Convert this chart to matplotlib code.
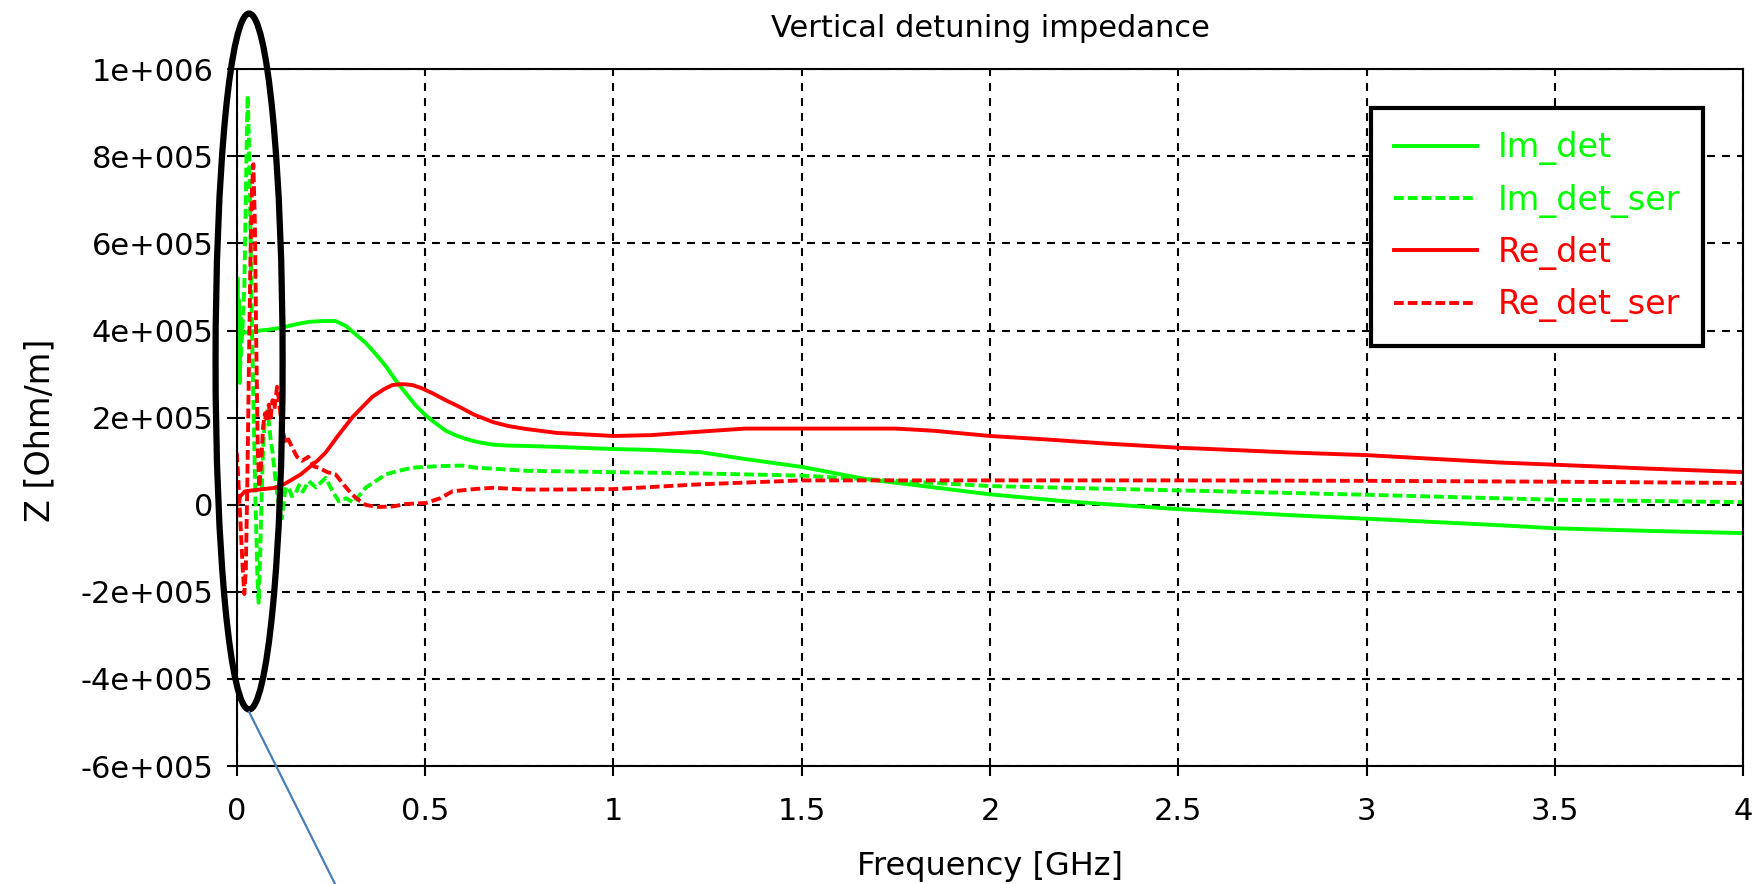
import matplotlib
matplotlib.use("Agg")
import matplotlib.pyplot as plt
from matplotlib.patches import Ellipse

# frequency [GHz] and impedance [kOhm/m]
f_im_det = [0, 0.002, 0.004, 0.006, 0.008, 0.010, 0.013, 0.02, 0.04, 0.06, 0.084,
            0.12, 0.16, 0.19, 0.23, 0.262, 0.289, 0.315, 0.342, 0.37, 0.396, 0.42,
            0.449, 0.475, 0.502, 0.53, 0.555, 0.58, 0.609, 0.64, 0.68, 0.72, 0.77,
            0.85, 1.0, 1.1, 1.23, 1.35, 1.5, 1.67, 1.85, 2.0, 2.2, 2.5, 2.8, 3.0,
            3.354, 3.5, 3.75, 4.0]
im_det = [400, 520, 300, 470, 280, 430, 400, 395, 398, 400, 402,
          407, 415, 420, 422, 422, 411, 392, 372, 345, 318, 288,
          256, 228, 205, 186, 170, 160, 151, 144, 138, 136, 135,
          133, 128, 126, 121, 105, 87, 59, 40, 24, 8, -10, -24, -32,
          -47, -54, -60, -65]

f_im_ser = [0, 0.004, 0.008, 0.012, 0.016, 0.02, 0.024, 0.027, 0.029, 0.032, 0.036,
            0.04, 0.045, 0.05, 0.055, 0.058, 0.062, 0.066, 0.07, 0.075, 0.08, 0.085,
            0.09, 0.095, 0.1, 0.105, 0.11, 0.115, 0.12, 0.125, 0.13, 0.138, 0.146,
            0.155, 0.165, 0.175, 0.191, 0.21, 0.236, 0.255, 0.271, 0.29, 0.31, 0.342,
            0.37, 0.396, 0.43, 0.466, 0.5, 0.546, 0.6, 0.635, 0.7, 0.769, 0.85, 1.0,
            1.23, 1.5, 1.75, 2.0, 2.25, 2.5, 2.56, 3.0, 3.5, 4.0]
im_det_ser = [450, 380, 300, 360, 420, 500, 700, 870, 940, 850, 650,
              420, 200, 0, -170, -225, -120, 20, 130, 200, 215, 190,
              150, 120, 80, 40, 10, -20, -31, 10, 40, 39, 20,
              23, 45, 30, 54, 40, 62, 30, 8, 15, 5, 39,
              55, 70, 78, 85, 87, 89, 90, 85, 82, 78, 77, 75,
              72, 67, 55, 43, 38, 33, 32, 23, 11.5, 6]

f_re_det = [0, 0.01, 0.022, 0.05, 0.08, 0.102, 0.125, 0.147, 0.17, 0.191, 0.215,
            0.236, 0.27, 0.307, 0.335, 0.36, 0.39, 0.413, 0.44, 0.466, 0.49, 0.52,
            0.555, 0.591, 0.63, 0.68, 0.72, 0.769, 0.85, 1.0, 1.1, 1.23, 1.35, 1.5,
            1.75, 1.85, 2.0, 2.15, 2.3, 2.5, 2.56, 2.8, 3.0, 3.354, 3.5, 3.75, 4.0]
re_det = [0, 20, 31, 34, 37, 39, 47, 58, 70, 85, 102,
          120, 160, 201, 226, 248, 265, 275, 277, 275, 268, 256,
          240, 225, 207, 190, 181, 174, 165, 158, 160, 168, 175, 175,
          175, 170, 158, 150, 141, 131, 129, 120, 114, 97, 92, 83, 75]

f_re_ser = [0, 0.004, 0.008, 0.012, 0.016, 0.02, 0.024, 0.028, 0.032, 0.036, 0.04,
            0.044, 0.048, 0.052, 0.056, 0.06, 0.065, 0.07, 0.075, 0.08, 0.085, 0.09,
            0.095, 0.1, 0.107, 0.112, 0.118, 0.124, 0.13, 0.137, 0.147, 0.16, 0.173,
            0.19, 0.205, 0.218, 0.24, 0.262, 0.285, 0.307, 0.325, 0.342, 0.37, 0.413,
            0.45, 0.502, 0.54, 0.573, 0.63, 0.68, 0.769, 0.85, 1.0, 1.23, 1.5, 2.0,
            2.5, 3.0, 3.5, 4.0]
re_det_ser = [120, 60, -10, -80, -150, -205, -150, 50, 300, 550, 720,
              782, 650, 350, 120, 40, 100, 180, 210, 190, 230, 200,
              240, 220, 271, 240, 190, 163, 140, 150, 132, 110, 101,
              110, 88, 85, 75, 70, 45, 23, 10, 0, -5, -4,
              2, 4, 15, 31, 36, 39, 35, 35, 36, 47, 56, 56,
              56, 55, 53, 50]

y_ticks = [-6e5, -4e5, -2e5, 0, 2e5, 4e5, 6e5, 8e5, 1e6]
y_labels = ["-6e+005", "-4e+005", "-2e+005", "0", "2e+005", "4e+005",
            "6e+005", "8e+005", "1e+006"]
x_ticks = [0, 0.5, 1, 1.5, 2, 2.5, 3, 3.5, 4]
x_labels = ["0", "0.5", "1", "1.5", "2", "2.5", "3", "3.5", "4"]

green = "#00ff00"
red = "#ff0000"
fs = 22

fig = plt.figure(figsize=(17.63, 8.84), dpi=100)
ax = fig.add_axes([0.1343, 0.1334, 0.8546, 0.7882])

def k(v):
    return [a * 1000 for a in v]

lw = 2.8
dash = (2.5, 1.05)
ax.plot(f_im_det, k(im_det), color=green, lw=lw, label="Im_det")
ax.plot(f_im_ser, k(im_det_ser), color=green, lw=lw, dashes=dash,
        label="Im_det_ser")
ax.plot(f_re_det, k(re_det), color=red, lw=lw, label="Re_det")
ax.plot(f_re_ser, k(re_det_ser), color=red, lw=lw, dashes=dash,
        label="Re_det_ser")

ax.set_xlim(0, 4)
ax.set_ylim(-6e5, 1e6)
ax.set_xticks(x_ticks)
ax.set_xticklabels(x_labels)
ax.set_yticks(y_ticks)
ax.set_yticklabels(y_labels)
ax.tick_params(axis="both", direction="out", length=7.5, width=1.5,
               labelsize=fs, colors="black")
ax.tick_params(axis="x", pad=15)
ax.tick_params(axis="y", pad=9)
ax.grid(True, color="black", lw=1.5, linestyle=(0, (3.8, 3.4)))
ax.set_axisbelow(True)
for s in ax.spines.values():
    s.set_linewidth(1.5)
    s.set_color("black")

ax.set_title("Vertical detuning impedance", fontsize=fs, pad=23)
ax.set_xlabel("Frequency [GHz]", fontsize=23, labelpad=18)
ax.set_ylabel("Z [Ohm/m]", fontsize=24)
ax.yaxis.set_label_coords(-0.12, 0.482)

leg = ax.legend(loc="upper right", bbox_to_anchor=(0.9733, 0.9445),
                borderaxespad=0, fontsize=24, handlelength=2.5,
                handletextpad=0.6, labelspacing=0.55, borderpad=0.7,
                fancybox=False, framealpha=1)
leg.get_frame().set_edgecolor("black")
leg.get_frame().set_linewidth(3)
for t, ln in zip(leg.get_texts(), leg.get_lines()):
    t.set_color(ln.get_color())

# hand-drawn highlight around the resonance peaks
ax.add_patch(Ellipse((0.0327, 329e3), 0.178, 1.598e6, fill=False,
                     edgecolor="black", lw=4.5, clip_on=False, zorder=5))
ax.plot([0.033, 0.261], [-476e3, -871e3], color="#4a7ebb", lw=1.6,
        clip_on=False, zorder=5)

fig.savefig("out.png", dpi=100)
